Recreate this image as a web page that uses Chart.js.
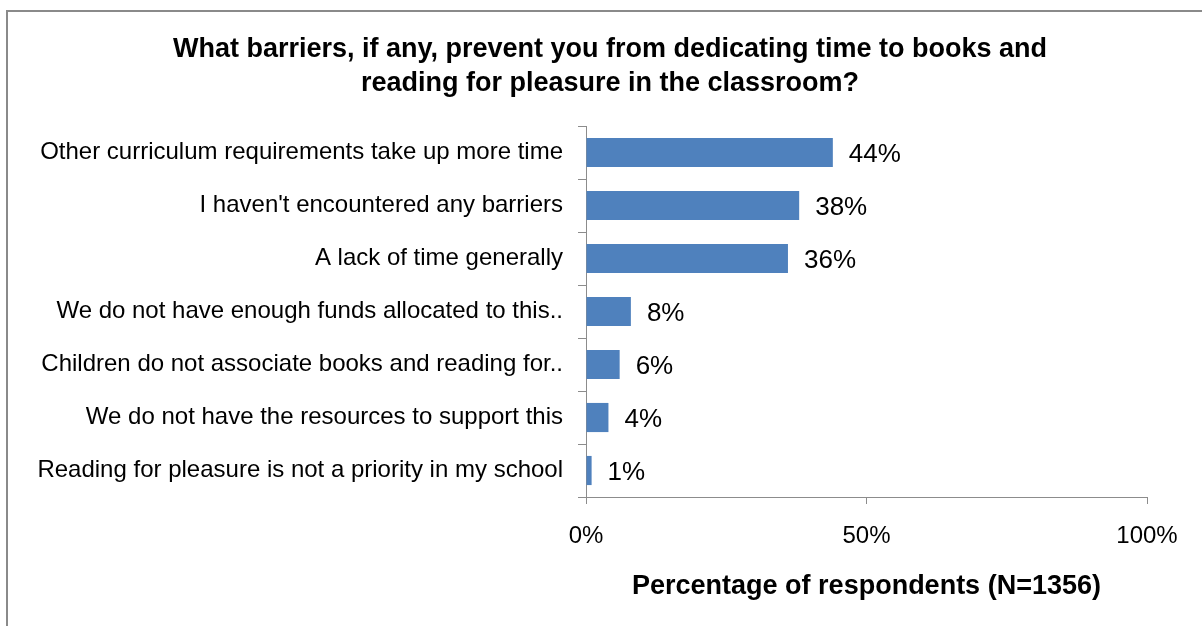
<!DOCTYPE html>
<html>
<head>
<meta charset="utf-8">
<script src="https://cdn.jsdelivr.net/npm/chart.js@4"></script>
<style>
    html, body { margin: 0; padding: 0; background: #fff; overflow: hidden; }
    #wrap { position: relative; width: 1202px; height: 626px; }
    #frame {
        position: absolute; left: 6px; top: 10px; width: 1300px; height: 700px;
        border: 2px solid #8a8a8a; pointer-events: none;
    }
</style>
</head>
<body>
<div id="wrap">
    <canvas id="barrier_graph" width="1202" height="626"></canvas>
    <div id="frame"></div>
</div>
<script>
const categories = [
    "Other curriculum requirements take up more time",
    "I haven't encountered any barriers",
    "A lack of time generally",
    "We do not have enough funds allocated to this..",
    "Children do not associate books and reading for..",
    "We do not have the resources to support this",
    "Reading for pleasure is not a priority in my school"
];
const percents   = [44, 38, 36, 8, 6, 4, 1];
const x_ticks    = [0, 50, 100];
const title_text = [
    "What barriers, if any, prevent you from dedicating time to books and",
    "reading for pleasure in the classroom?"
];
const axis_title = "Percentage of respondents (N=1356)";

const font_name = "'Liberation Sans', Arial, sans-serif";
const axis_grey = "#8c8c8c";

// value labels to the right of each bar
const value_labels = {
    id: "value_labels",
    afterDatasetsDraw(chart) {
        const ctx  = chart.ctx;
        const meta = chart.getDatasetMeta(0);
        ctx.save();
        ctx.font = "26px " + font_name;
        ctx.fillStyle = "#000";
        ctx.textAlign = "left";
        ctx.textBaseline = "middle";
        meta.data.forEach((bar, i) => {
            ctx.fillText(percents[i] + "%", bar.x + 16, bar.y + 2);
        });
        ctx.restore();
    }
};

// the title sits a bit right of the canvas centre in the original
const shift_title = {
    id: "shift_title",
    afterLayout(chart) {
        chart.titleBlock.left  = 73;
        chart.titleBlock.right = 1147;
    }
};

const ctx = document.getElementById("barrier_graph").getContext("2d");
new Chart(ctx, {
    type: "bar",
    data: {
        labels: categories,
        datasets: [{
            data: percents,
            backgroundColor: "#4F81BD",
            borderWidth: 0,
            barPercentage: 0.55,
            categoryPercentage: 1.0
        }]
    },
    options: {
        indexAxis: "y",
        responsive: false,
        animation: false,
        layout: { padding: { left: 10, right: 55, top: 0, bottom: 0 } },
        plugins: {
            legend: { display: false },
            tooltip: { enabled: false },
            title: {
                display: true,
                text: title_text,
                color: "#000",
                font: { family: font_name, size: 27, weight: "bold", lineHeight: 1.26 },
                padding: { top: 33, bottom: 25 }
            }
        },
        scales: {
            x: {
                min: 0,
                max: 100,
                afterBuildTicks: (scale) => { scale.ticks = x_ticks.map(v => ({ value: v })); },
                afterFit: (scale) => { scale.height = 129; },
                border: { display: true, color: axis_grey, width: 1 },
                grid: { drawOnChartArea: false, drawTicks: true, tickLength: 7, color: axis_grey },
                ticks: {
                    color: "#000",
                    padding: 18,
                    font: { family: font_name, size: 24 },
                    callback: (v) => v + "%"
                },
                title: {
                    display: true,
                    text: axis_title,
                    color: "#000",
                    font: { family: font_name, size: 27, weight: "bold", lineHeight: 1.2 },
                    padding: { top: 0, bottom: 23 }
                }
            },
            y: {
                afterFit: (scale) => { scale.width = 576; },
                border: { display: true, color: axis_grey, width: 1 },
                grid: { drawOnChartArea: false, drawTicks: true, tickLength: 8, color: axis_grey, offset: true },
                ticks: {
                    color: "#000",
                    padding: 15,
                    autoSkip: false,
                    font: { family: font_name, size: 24 }
                }
            }
        }
    },
    plugins: [value_labels, shift_title]
});
</script>
</body>
</html>
